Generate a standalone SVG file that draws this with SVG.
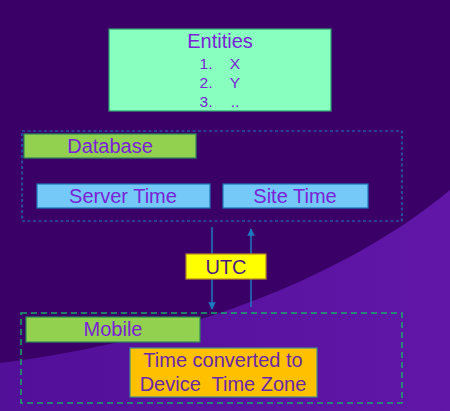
<svg xmlns="http://www.w3.org/2000/svg" width="450" height="411" viewBox="0 0 450 411">
<style>
text{font-family:"Liberation Sans",Arial,sans-serif;text-anchor:middle}
.t18{font-size:20px;fill:#7a22d6}
.t15{font-size:15.5px;fill:#7a22d6}
.lab{fill:#92d050;stroke:#2e8b57;stroke-width:1.2}
.time{fill:#75c9f8;stroke:#1f78b8;stroke-width:1.2}
.arr{stroke:#1f78c0;stroke-width:1.5;fill:none}
.dk{font-size:20px;fill:#6a28a8}
</style>
<defs>
<linearGradient id="bg2" x1="0" y1="0" x2="1" y2="0">
<stop offset="0" stop-color="#520f98"/>
<stop offset="1" stop-color="#6116a8"/>
</linearGradient>
<marker id="ah" viewBox="0 0 10 10" refX="9" refY="5" markerWidth="5" markerHeight="5" orient="auto">
<path d="M0,0 L10,5 L0,10 z" fill="#1f78c0"/>
</marker>
</defs>
<rect x="0" y="0" width="450" height="411" fill="#3b0068"/>
<path d="M0,363 C150,345 330,290 450,190 L450,411 L0,411 z" fill="url(#bg2)"/>

<g id="entities">
<rect x="109" y="29" width="222" height="82" fill="#88ffbe" stroke="#2ea070" stroke-width="1.2"/>
<text class="t18" x="220" y="48">Entities</text>
<text class="t15" x="206" y="69">1.</text><text class="t15" x="235" y="69">X</text>
<text class="t15" x="206" y="88">2.</text><text class="t15" x="235" y="88">Y</text>
<text class="t15" x="206" y="107">3.</text><text class="t15" x="235" y="107">..</text>
</g>

<g id="database">
<rect x="22" y="131" width="380" height="90" fill="none" stroke="#1f78c0" stroke-width="1.2" stroke-dasharray="3,2.5"/>
<rect class="lab" x="24" y="134" width="172" height="24"/>
<text class="t18" x="110" y="153">Database</text>
</g>

<g id="server-time">
<rect class="time" x="37" y="184" width="173" height="24"/>
<text class="t18" x="123" y="203">Server Time</text>
</g>

<g id="site-time">
<rect class="time" x="223" y="184" width="145" height="24"/>
<text class="t18" x="295" y="203">Site Time</text>
</g>

<g id="connectors">
<line class="arr" x1="212" y1="227" x2="212" y2="309" marker-end="url(#ah)"/>
<line class="arr" x1="251" y1="307" x2="251" y2="229" marker-end="url(#ah)"/>
</g>

<g id="utc">
<rect x="186" y="254" width="80" height="25" fill="#ffff00" stroke="#b8862b" stroke-width="1.2"/>
<text x="226" y="274" style="font-size:20px;fill:#4a1a80">UTC</text>
</g>

<g id="mobile">
<rect x="21" y="313" width="381" height="90" fill="none" stroke="#1aa86a" stroke-width="1.5" stroke-dasharray="6,4"/>
<rect class="lab" x="26" y="317" width="174" height="25"/>
<text class="t18" x="113" y="336">Mobile</text>
</g>

<g id="converted">
<rect x="130" y="348" width="187" height="49" fill="#ffc000" stroke="#3e8e8e" stroke-width="1.2"/>
<text class="dk" x="223" y="367">Time converted to</text>
<text class="dk" x="223" y="391" xml:space="preserve">Device  Time Zone</text>
</g>
</svg>
